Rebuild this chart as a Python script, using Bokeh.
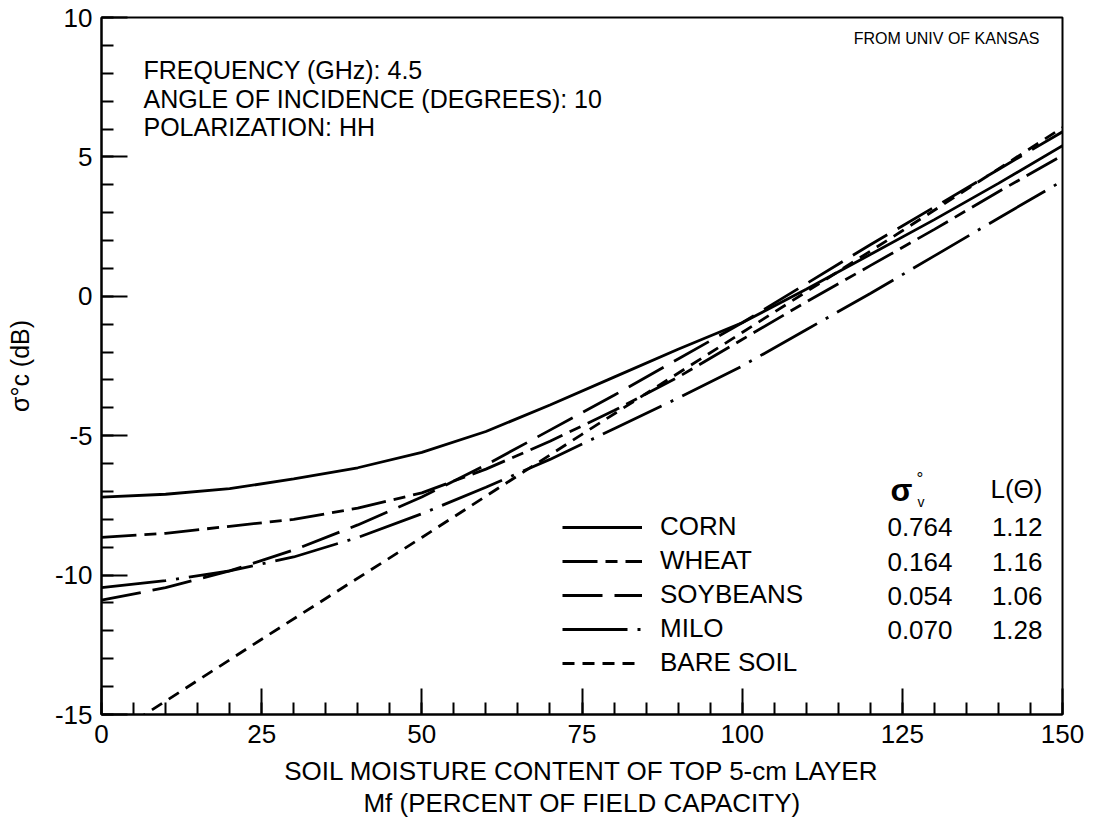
from bokeh.plotting import figure
from bokeh.models import FixedTicker, Label, Legend, LegendItem, Range1d, Title
from bokeh.embed import file_html
from bokeh.resources import INLINE

# ---------------- data ----------------
moisture = [0, 10, 20, 30, 40, 50, 60, 70, 80, 90, 100, 110, 120, 130, 140, 150]
corn     = [-7.2, -7.1, -6.9, -6.55, -6.15, -5.6, -4.85, -3.9, -2.9, -1.9, -0.95, 0.25, 1.5, 2.75, 4.05, 5.4]
wheat    = [-8.65, -8.5, -8.25, -8.0, -7.6, -7.05, -6.2, -5.2, -4.1, -2.9, -1.55, -0.2, 1.1, 2.4, 3.75, 5.05]
soybeans = [-10.9, -10.45, -9.85, -9.1, -8.2, -7.2, -6.05, -4.8, -3.55, -2.25, -0.95, 0.45, 1.85, 3.2, 4.55, 5.9]
milo     = [-10.45, -10.2, -9.85, -9.35, -8.65, -7.8, -6.85, -5.85, -4.75, -3.65, -2.5, -1.2, 0.1, 1.45, 2.8, 4.14]
bare_moisture = [0, 25, 50, 75, 100, 125, 150]
bare_soil     = [-16.0, -12.3, -8.65, -4.95, -1.3, 2.35, 6.05]

crop_names = ["CORN", "WHEAT", "SOYBEANS", "MILO", "BARE SOIL"]
sigma_v    = ["0.764", "0.164", "0.054", "0.070", ""]
l_theta    = ["1.12", "1.16", "1.06", "1.28", ""]

x_ticks = [0, 25, 50, 75, 100, 125, 150]
x_tick_labels = ["0", "25", "50", "75", "100", "125", "150"]
x_minor = list(range(0, 151, 5))
y_ticks = [-15, -10, -5, 0, 5, 10]
y_tick_labels = ["-15", "-10", "-5", "0", "5", "10"]
y_minor = list(range(-15, 11, 1))

info_lines = ["FREQUENCY (GHz): 4.5", "ANGLE OF INCIDENCE (DEGREES): 10", "POLARIZATION: HH"]
source_note = "FROM UNIV OF KANSAS"
x_title_1 = "SOIL MOISTURE CONTENT OF TOP 5-cm LAYER"
x_title_2 = "Mf (PERCENT OF FIELD CAPACITY)"
y_title = "\u03c3\u00b0c (dB)"

# ---------------- figure ----------------
FONT = "Liberation Sans"
X0, X1, Y0, Y1 = 0, 150, -15, 10
p = figure(frame_width=961, frame_height=697,
           x_range=Range1d(X0, X1), y_range=Range1d(Y0, Y1),
           min_border_left=101, min_border_right=23, min_border_top=17, min_border_bottom=103,
           output_backend="svg", toolbar_location=None,
           background_fill_color="white", border_fill_color="white")
p.xgrid.visible = False
p.ygrid.visible = False
p.outline_line_color = "black"
p.outline_line_width = 2
p.outline_line_alpha = 1

for ax, ticks, minor, labels, standoff in (
        (p.xaxis[0], x_ticks, x_minor, x_tick_labels, 10),
        (p.yaxis[0], y_ticks, y_minor, y_tick_labels, 9)):
    ax.ticker = FixedTicker(ticks=ticks, minor_ticks=minor)
    ax.major_label_overrides = {t: l for t, l in zip(ticks, labels)}
    ax.major_tick_in = 26
    ax.major_tick_out = 0
    ax.minor_tick_in = 12
    ax.minor_tick_out = 0
    ax.axis_line_width = 2
    ax.major_tick_line_width = 2
    ax.minor_tick_line_width = 2
    ax.axis_line_color = "black"
    ax.major_tick_line_color = "black"
    ax.minor_tick_line_color = "black"
    ax.major_label_text_font = FONT
    ax.major_label_text_font_size = "26px"
    ax.major_label_text_color = "black"
    ax.major_label_standoff = standoff

p.yaxis[0].axis_label = y_title
p.yaxis[0].axis_label_text_font = FONT
p.yaxis[0].axis_label_text_font_size = "25px"
p.yaxis[0].axis_label_text_font_style = "normal"
p.yaxis[0].axis_label_text_color = "black"
p.yaxis[0].axis_label_standoff = 18

# small blank spacer between the tick labels and the two title lines
p.add_layout(Title(text=" ", text_font=FONT, text_font_size="5px", standoff=0), "below")
for text in (x_title_1, x_title_2):
    p.add_layout(Title(text=text, align="center", text_font=FONT, text_font_size="26px",
                       text_font_style="normal", text_color="black", standoff=0), "below")

LW = 2.8
r_corn = p.line(moisture, corn, line_color="black", line_width=LW)
r_wheat = p.line(moisture, wheat, line_color="black", line_width=LW, line_dash="35 8 12 8")
r_soy = p.line(moisture, soybeans, line_color="black", line_width=LW, line_dash="40 12")
r_milo = p.line(moisture, milo, line_color="black", line_width=LW, line_dash="65 10 3 10")
r_bare = p.line(bare_moisture, bare_soil, line_color="black", line_width=LW, line_dash="12 8")
renderers = [r_corn, r_wheat, r_soy, r_milo, r_bare]

legend = Legend(items=[LegendItem(label=n, renderers=[r]) for n, r in zip(crop_names, renderers)],
                location=(461, 36), glyph_width=80, glyph_height=30, label_height=30,
                spacing=3, padding=0, margin=0, label_standoff=18,
                label_text_font=FONT, label_text_font_size="26px", label_text_color="black",
                border_line_alpha=0, background_fill_alpha=0)
p.add_layout(legend)

# reference-pixel -> data helpers (reference frame spans px 109..1070, 18..722)
def fx(px):
    return X0 + (px - 109) / 961 * (X1 - X0)

def fy(py):
    return Y1 - (py - 18) / 704 * (Y1 - Y0)

def txt(text, px, py, size, align="left", baseline="middle", style="normal"):
    p.add_layout(Label(x=fx(px), y=fy(py), text=text, text_font=FONT,
                       text_font_size=f"{size}px", text_align=align, text_baseline=baseline,
                       text_font_style=style, text_color="black"))

# info block
for i, line in enumerate(info_lines):
    txt(line, 151, 71 + i * 29, 25)
txt(source_note, 1047, 39, 16, align="right")

# legend header and value columns
txt("\u03c3", 898, 495, 32, style="bold")
txt("\u00b0", 924, 484, 17)
txt("v", 925, 507, 14)
txt("L(\u0398)", 1050, 494, 26, align="right")
row_y = [533, 567.5, 602, 636.5]
for i in range(4):
    txt(sigma_v[i], 960, row_y[i], 26, align="right")
    txt(l_theta[i], 1050, row_y[i], 26, align="right")

html = file_html(p, INLINE, "Soil moisture backscatter")
with open("out.html", "w") as f:
    f.write(html)
